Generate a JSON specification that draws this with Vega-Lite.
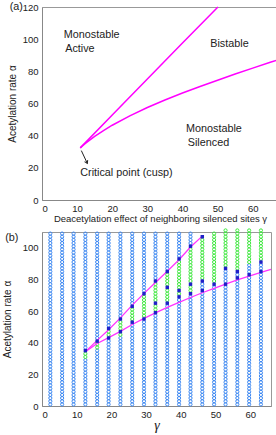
{
  "$schema": "https://vega.github.io/schema/vega-lite/v6.json",
  "padding": {"left": 1, "top": 0, "right": 0, "bottom": 0},
  "background": "white",
  "config": {
    "font": "Liberation Sans",
    "view": {"stroke": "#999", "strokeWidth": 1},
    "axis": {"labelFont": "Liberation Sans", "labelFontSize": 9.5, "labelColor": "#222", "titleFont": "Liberation Sans", "titleFontSize": 10, "titleFontWeight": "normal", "titleColor": "#222", "grid": false, "domainColor": "#888", "ticks": false, "labelPadding": 4},
    "axisX": {"labelPadding": 3}
  },
  "datasets": {
    "linesA": [
      {"g": 10.9, "a": 32.4, "s": "u"}, {"g": 20, "a": 52.8, "s": "u"}, {"g": 30, "a": 75.2, "s": "u"}, {"g": 40, "a": 97.6, "s": "u"}, {"g": 50.1, "a": 120, "s": "u"},
      {"g": 10.9, "a": 32.4, "s": "l"}, {"g": 11.4, "a": 33.4, "s": "l"}, {"g": 12, "a": 34.6, "s": "l"}, {"g": 13, "a": 36.3, "s": "l"}, {"g": 15, "a": 39.6, "s": "l"}, {"g": 17.5, "a": 43.2, "s": "l"}, {"g": 20, "a": 46.5, "s": "l"}, {"g": 25, "a": 52.3, "s": "l"}, {"g": 30, "a": 57.5, "s": "l"}, {"g": 35, "a": 62.2, "s": "l"}, {"g": 40, "a": 66.5, "s": "l"}, {"g": 45, "a": 70.6, "s": "l"}, {"g": 50, "a": 74.5, "s": "l"}, {"g": 55, "a": 78.3, "s": "l"}, {"g": 60, "a": 82.0, "s": "l"}, {"g": 65, "a": 85.6, "s": "l"}, {"g": 67.2, "a": 87.1, "s": "l"}
    ],
    "arrowA": [{"g": 11.2, "a": 30.7}, {"g": 12.9, "a": 22.8}],
    "arrowHeadA": [{"g": 12.9, "a": 22.8}],
    "labelsA": [
      {"g": 6.2, "a": 102.6, "t": "Monostable"},
      {"g": 6.6, "a": 93.8, "t": "Active"},
      {"g": 47.9, "a": 96.9, "t": "Bistable"},
      {"g": 41.0, "a": 44.2, "t": "Monostable"},
      {"g": 41.5, "a": 35.2, "t": "Silenced"},
      {"g": 10.9, "a": 16.9, "t": "Critical point (cusp)"},
      {"g": -9.2, "a": 120, "t": "(a)"}
    ],
    "labelsB": [{"g": -10.6, "a": 106.5, "t": "(b)"}],
    "linesB": [
      {"g": 12.5, "a": 34.3, "s": "u"}, {"g": 15.9, "a": 41.5, "s": "u"}, {"g": 19.2, "a": 48.2, "s": "u"}, {"g": 22.6, "a": 55.7, "s": "u"}, {"g": 26.0, "a": 63.8, "s": "u"}, {"g": 29.4, "a": 71.2, "s": "u"}, {"g": 32.7, "a": 78.1, "s": "u"}, {"g": 36.1, "a": 85.2, "s": "u"}, {"g": 39.5, "a": 92.5, "s": "u"}, {"g": 42.8, "a": 100.5, "s": "u"}, {"g": 46.2, "a": 107.4, "s": "u"},
      {"g": 12.5, "a": 34.3, "s": "l"}, {"g": 15.9, "a": 39.5, "s": "l"}, {"g": 19.2, "a": 43.2, "s": "l"}, {"g": 22.6, "a": 47.2, "s": "l"}, {"g": 26.0, "a": 51.5, "s": "l"}, {"g": 29.4, "a": 55.4, "s": "l"}, {"g": 32.7, "a": 58.9, "s": "l"}, {"g": 36.1, "a": 62.3, "s": "l"}, {"g": 39.5, "a": 65.5, "s": "l"}, {"g": 42.8, "a": 68.6, "s": "l"}, {"g": 46.2, "a": 71.6, "s": "l"}, {"g": 49.6, "a": 74.4, "s": "l"}, {"g": 52.9, "a": 77.1, "s": "l"}, {"g": 56.3, "a": 79.7, "s": "l"}, {"g": 59.7, "a": 82.1, "s": "l"}, {"g": 63.1, "a": 84.5, "s": "l"}, {"g": 66, "a": 86.4, "s": "l"}
    ],
    "pts": [
      {"g": 2.4, "c": "b", "a": [1,3,5,7,9,11,13,15,17,19,21,23,25,27,29,31,33,35,37,39,41,43,45,47,49,51,53,55,57,59,61,63,65,67,69,71,73,75,77,79,81,83,85,87,89,91,93,95,97,99,101,103,105,107,109]},
      {"g": 5.8, "c": "b", "a": [1,3,5,7,9,11,13,15,17,19,21,23,25,27,29,31,33,35,37,39,41,43,45,47,49,51,53,55,57,59,61,63,65,67,69,71,73,75,77,79,81,83,85,87,89,91,93,95,97,99,101,103,105,107,109]},
      {"g": 9.1, "c": "b", "a": [1,3,5,7,9,11,13,15,17,19,21,23,25,27,29,31,33,35,37,39,41,43,45,47,49,51,53,55,57,59,61,63,65,67,69,71,73,75,77,79,81,83,85,87,89,91,93,95,97,99,101,103,105,107,109]},
      {"g": 12.5, "c": "b", "a": [1,3,5,7,9,11,13,15,17,19,21,23,25,27,29,37,39,41,43,45,47,49,51,53,55,57,59,61,63,65,67,69,71,73,75,77,79,81,83,85,87,89,91,93,95,97,99,101,103,105,107,109]},
      {"g": 12.5, "c": "g", "a": [31,33]},
      {"g": 12.5, "c": "d", "a": [35]},
      {"g": 15.9, "c": "b", "a": [1,3,5,7,9,11,13,15,17,19,21,23,25,27,29,31,33,35,43,45,47,49,51,53,55,57,59,61,63,65,67,69,71,73,75,77,79,81,83,85,87,89,91,93,95,97,99,101,103,105,107,109]},
      {"g": 15.9, "c": "g", "a": [37,39]},
      {"g": 15.9, "c": "d", "a": [41]},
      {"g": 19.2, "c": "b", "a": [1,3,5,7,9,11,13,15,17,19,21,23,25,27,29,31,33,35,37,39,41,51,53,55,57,59,61,63,65,67,69,71,73,75,77,79,81,83,85,87,89,91,93,95,97,99,101,103,105,107,109]},
      {"g": 19.2, "c": "g", "a": [45,47]},
      {"g": 19.2, "c": "d", "a": [43,49]},
      {"g": 22.6, "c": "b", "a": [1,3,5,7,9,11,13,15,17,19,21,23,25,27,29,31,33,35,37,39,41,43,57,59,61,63,65,67,69,71,73,75,77,79,81,83,85,87,89,91,93,95,97,99,101,103,105,107,109]},
      {"g": 22.6, "c": "g", "a": [45,49,51,53]},
      {"g": 22.6, "c": "d", "a": [47,55]},
      {"g": 26.0, "c": "b", "a": [1,3,5,7,9,11,13,15,17,19,21,23,25,27,29,31,33,35,37,39,41,43,45,47,49,51,65,67,69,71,73,75,77,79,81,83,85,87,89,91,93,95,97,99,101,103,105,107,109]},
      {"g": 26.0, "c": "g", "a": [55,57,59,61]},
      {"g": 26.0, "c": "d", "a": [53,63]},
      {"g": 29.4, "c": "b", "a": [1,3,5,7,9,11,13,15,17,19,21,23,25,27,29,31,33,35,37,39,41,43,45,47,49,51,53,73,75,77,79,81,83,85,87,89,91,93,95,97,99,101,103,105,107,109]},
      {"g": 29.4, "c": "g", "a": [57,59,61,63,65,67,69]},
      {"g": 29.4, "c": "d", "a": [55,71]},
      {"g": 32.7, "c": "b", "a": [1,3,5,7,9,11,13,15,17,19,21,23,25,27,29,31,33,35,37,39,41,43,45,47,49,51,53,55,57,81,83,85,87,89,91,93,95,97,99,101,103,105,107,109]},
      {"g": 32.7, "c": "g", "a": [61,63,67,69,71,73,75,77]},
      {"g": 32.7, "c": "d", "a": [59,65,79]},
      {"g": 36.1, "c": "b", "a": [1,3,5,7,9,11,13,15,17,19,21,23,25,27,29,31,33,35,37,39,41,43,45,47,49,51,53,55,57,59,61,63,87,89,91,93,95,97,99,101,103,105,107,109]},
      {"g": 36.1, "c": "g", "a": [67,69,71,73,77,79,81,83]},
      {"g": 36.1, "c": "d", "a": [65,75,85]},
      {"g": 39.5, "c": "b", "a": [1,3,5,7,9,11,13,15,17,19,21,23,25,27,29,31,33,35,37,39,41,43,45,47,49,51,53,55,57,59,61,63,65,67,95,97,99,101,103,105,107,109]},
      {"g": 39.5, "c": "g", "a": [71,75,77,79,81,83,85,87,89,91]},
      {"g": 39.5, "c": "d", "a": [69,73,93]},
      {"g": 42.8, "c": "b", "a": [1,3,5,7,9,11,13,15,17,19,21,23,25,27,29,31,33,35,37,39,41,43,45,47,49,51,53,55,57,59,61,63,65,67,69,103,105,107,109]},
      {"g": 42.8, "c": "g", "a": [73,75,79,81,83,85,87,89,91,93,95,97,99]},
      {"g": 42.8, "c": "d", "a": [71,77,101]},
      {"g": 46.2, "c": "b", "a": [1,3,5,7,9,11,13,15,17,19,21,23,25,27,29,31,33,35,37,39,41,43,45,47,49,51,53,55,57,59,61,63,65,67,69,71,75,77]},
      {"g": 46.2, "c": "g", "a": [81,83,85,87,89,91,93,95,97,99,101,103,105]},
      {"g": 46.2, "c": "d", "a": [73,79,107]},
      {"g": 49.6, "c": "b", "a": [1,3,5,7,9,11,13,15,17,19,21,23,25,27,29,31,33,35,37,39,41,43,45,47,49,51,53,55,57,59,61,63,65,67,69,71,73,75]},
      {"g": 49.6, "c": "g", "a": [79,81,83,85,87,89,91,93,95,97,99,101,103,105,107,109]},
      {"g": 49.6, "c": "d", "a": [77]},
      {"g": 52.9, "c": "b", "a": [1,3,5,7,9,11,13,15,17,19,21,23,25,27,29,31,33,35,37,39,41,43,45,47,49,51,53,55,57,59,61,63,65,67,69,71,73,75,79,81,83,85]},
      {"g": 52.9, "c": "g", "a": [89,91,93,95,97,99,101,103,105,107,109,111]},
      {"g": 52.9, "c": "d", "a": [77,87]},
      {"g": 56.3, "c": "b", "a": [1,3,5,7,9,11,13,15,17,19,21,23,25,27,29,31,33,35,37,39,41,43,45,47,49,51,53,55,57,59,61,63,65,67,69,71,73,75,77,79,83]},
      {"g": 56.3, "c": "g", "a": [87,89,91,93,95,97,99,101,103,105,107,109,111]},
      {"g": 56.3, "c": "d", "a": [81,85]},
      {"g": 59.7, "c": "b", "a": [1,3,5,7,9,11,13,15,17,19,21,23,25,27,29,31,33,35,37,39,41,43,45,47,49,51,53,55,57,59,61,63,65,67,69,71,73,75,77,79,81,85,87,89]},
      {"g": 59.7, "c": "g", "a": [91,93,95,97,99,101,103,105,107,109,111]},
      {"g": 59.7, "c": "d", "a": [83]},
      {"g": 63.1, "c": "b", "a": [1,3,5,7,9,11,13,15,17,19,21,23,25,27,29,31,33,35,37,39,41,43,45,47,49,51,53,55,57,59,61,63,65,67,69,71,73,75,77,79,81,83,87,89]},
      {"g": 63.1, "c": "g", "a": [93,95,97,99,101,103,105,107,109,111]},
      {"g": 63.1, "c": "d", "a": [85,91]}
    ]
  },
  "concat": [
    {
      "width": 236,
      "height": 193,
      "encoding": {
        "x": {"field": "g", "type": "quantitative", "scale": {"domain": [0, 67.2], "nice": false}, "axis": {"values": [0, 10, 20, 30, 40, 50, 60], "titleFontSize": 9.5, "titlePadding": 1, "title": "Deacetylation effect of neighboring silenced sites γ"}},
        "y": {"field": "a", "type": "quantitative", "scale": {"domain": [0, 120], "nice": false}, "axis": {"values": [0, 20, 40, 60, 80, 100, 120], "titlePadding": 5, "title": "Acetylation rate α"}}
      },
      "layer": [
        {"data": {"name": "linesA"}, "mark": {"type": "line", "color": "#ff00ff", "strokeWidth": 1.5}, "encoding": {"detail": {"field": "s"}}},
        {"data": {"name": "arrowA"}, "mark": {"type": "line", "color": "#222", "strokeWidth": 1}, "encoding": {}},
        {"data": {"name": "arrowHeadA"}, "mark": {"type": "point", "shape": "M-1,-1.6L0,0L1,-1.6", "filled": false, "stroke": "#222", "strokeWidth": 1, "size": 12, "angle": 335, "opacity": 1}, "encoding": {}},
        {"data": {"name": "labelsA"}, "mark": {"type": "text", "align": "left", "baseline": "middle", "font": "Liberation Sans", "fontSize": 10.8, "color": "#222"}, "encoding": {"text": {"field": "t"}}}
      ]
    },
    {
      "width": 229,
      "height": 174,
      "encoding": {
        "x": {"field": "g", "type": "quantitative", "scale": {"domain": [0, 66], "nice": false}, "axis": {"values": [0, 10, 20, 30, 40, 50, 60], "title": "γ", "titleFont": "Liberation Serif", "titleFontStyle": "italic", "titleFontSize": 14, "titlePadding": 0}},
        "y": {"field": "a", "type": "quantitative", "scale": {"domain": [0, 110], "nice": false}, "axis": {"values": [0, 20, 40, 60, 80, 100], "titlePadding": 10, "title": "Acetylation rate α"}}
      },
      "layer": [
        {"data": {"name": "pts"}, "transform": [{"flatten": ["a"]}, {"filter": "datum.c == 'b'"}], "mark": {"type": "point", "shape": "circle", "filled": false, "stroke": "#3b87f2", "strokeWidth": 1, "size": 10, "opacity": 1}, "encoding": {}},
        {"data": {"name": "pts"}, "transform": [{"flatten": ["a"]}, {"filter": "datum.c == 'g'"}], "mark": {"type": "point", "shape": "circle", "filled": false, "stroke": "#3ee83e", "strokeWidth": 1, "size": 10, "opacity": 1}, "encoding": {}},
        {"data": {"name": "linesB"}, "mark": {"type": "line", "color": "#ff33ff", "strokeWidth": 1.3}, "encoding": {"detail": {"field": "s"}}},
        {"data": {"name": "pts"}, "transform": [{"flatten": ["a"]}, {"filter": "datum.c == 'd'"}], "mark": {"type": "square", "color": "#2020c8", "size": 12, "opacity": 1}, "encoding": {}},
        {"data": {"name": "labelsB"}, "mark": {"type": "text", "align": "left", "baseline": "middle", "font": "Liberation Sans", "fontSize": 10.8, "color": "#222"}, "encoding": {"text": {"field": "t"}}}
      ]
    }
  ],
  "columns": 1,
  "align": "none",
  "spacing": 2
}
